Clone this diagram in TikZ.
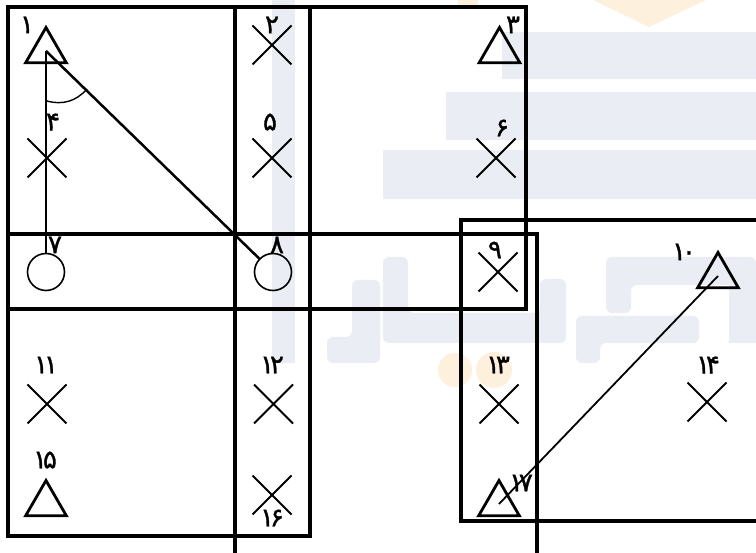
\documentclass[tikz,border=0pt]{standalone}
\usepackage{fontspec}
\usetikzlibrary{shapes.geometric,shapes.misc}
\newfontfamily\fa[Script=Arabic,LetterSpace=-16,FakeBold=1.2]{DejaVu Sans}
\definecolor{wmblue}{HTML}{EAEDF3}
\definecolor{wmorange}{HTML}{FDF0DC}
\tikzset{
  wm/.style={fill=wmblue,draw=none},
  wmo/.style={fill=wmorange,draw=none},
  grid/.style={draw=black,line width=3.2pt,line cap=rect},
  crosssym/.style={cross out,draw=black,line width=1.8pt,minimum size=39pt,inner sep=0pt,outer sep=0pt},
  trisym/.style={regular polygon,regular polygon sides=3,draw=black,line width=2.8pt,minimum size=47pt,inner sep=0pt,outer sep=0pt},
  circsym/.style={circle,draw=black,line width=1.6pt,minimum size=37pt,inner sep=0pt,outer sep=0pt},
  lab/.style={font=\fa\fontsize{26}{26}\selectfont,inner sep=0pt,text=black},
  conn/.style={draw=black,line width=2.5pt},
  connthin/.style={draw=black,line width=1.8pt}
}
\begin{document}
\begin{tikzpicture}[x=1pt,y=-1pt]
\useasboundingbox[fill=white] (0,0) rectangle (756,553);
% watermark
\fill[wmo] (593,0) -- (649,27) -- (706,0) -- cycle;
\fill[wmo] (458,0) rectangle (478,5);
\fill[wm] (502,32) rectangle (756,79);
\fill[wm] (446,92) rectangle (756,140);
\fill[wm] (383,150) rectangle (756,199);
\fill[wm] (272,0) rectangle (295,363);
\fill[wm,rounded corners=6pt] (352,280) -- (380,280) -- (380,363) -- (327,363) -- (327,337) -- (352,337) -- cycle;
\fill[wm,rounded corners=6pt] (383,257) -- (408,257) -- (408,313) -- (540,313) -- (540,279) -- (566,279) -- (566,343) -- (383,343) -- cycle;
\fill[wm,rounded corners=6pt] (606,257) -- (756,257) -- (756,285) -- (631,285) -- (631,313) -- (606,313) -- cycle;
\fill[wm,rounded corners=6pt] (576,363) -- (576,316) -- (699,316) -- (699,343) -- (600,343) -- (600,363) -- cycle;
\fill[wm] (729,273) rectangle (756,343);
\fill[wmo] (455,370) circle[radius=17];
\fill[wmo] (494,370) circle[radius=18];
% grid
\draw[grid] (8,7) -- (526,7);
\draw[grid] (8,7) -- (8,536) -- (310,536) -- (310,7);
\draw[grid] (235,7) -- (235,553);
\draw[grid] (526,7) -- (526,309) -- (8,309);
\draw[grid] (8,234) -- (537,234) -- (537,553);
\draw[grid] (756,220) -- (461,220) -- (461,521) -- (756,521);
% symbols
\node[trisym] (t1) at (46,51) {};
\node[trisym] (t3) at (499.5,51) {};
\node[trisym] (t10) at (718,276) {};
\node[trisym] (t15) at (46,504) {};
\node[trisym] (t17) at (499,504) {};
\node[crosssym] (x2) at (272,45) {};
\node[crosssym] (x4) at (47,158) {};
\node[crosssym] (x5) at (272,158) {};
\node[crosssym] (x6) at (496,158) {};
\node[crosssym] (x9) at (498,272) {};
\node[crosssym] (x11) at (47,404) {};
\node[crosssym] (x12) at (273.5,404) {};
\node[crosssym] (x13) at (499,404) {};
\node[crosssym] (x14) at (707,402) {};
\node[crosssym] (x16) at (272,495) {};
\node[circsym] (c7) at (46,272) {};
\node[circsym] (c8) at (273,272) {};
% connectors
\draw[conn] (t1.center) -- (c7);
\draw[conn] (t1.center) -- (c8);
\draw[connthin] (t17.center) -- (t10.center);
\coordinate (a1) at (47,101);
\coordinate (a2) at (87,89);
\draw[draw=black,line width=1.4pt] (a1) to[bend right=32] (a2);
% labels
\node[lab] (l1) at (27,25) {۱};
\node[lab] (l2) at (272,25) {۲};
\node[lab] (l3) at (513,25) {۳};
\node[lab] (l4) at (53,122) {۴};
\node[lab] (l5) at (270,122) {۵};
\node[lab] (l6) at (502,128) {۶};
\node[lab] (l7) at (55,245) {۷};
\node[lab] (l8) at (277,245) {۸};
\node[lab] (l9) at (495,250) {۹};
\node[lab] (l10) at (684,252) {۱۰};
\node[lab] (l11) at (46,365) {۱۱};
\node[lab] (l12) at (272,365) {۱۲};
\node[lab] (l13) at (498,365) {۱۳};
\node[lab] (l14) at (708,365) {۱۴};
\node[lab] (l15) at (45,460) {۱۵};
\node[lab] (l16) at (272,518) {۱۶};
\node[lab] (l17) at (521,483) {۱۷};
\end{tikzpicture}
\end{document}
